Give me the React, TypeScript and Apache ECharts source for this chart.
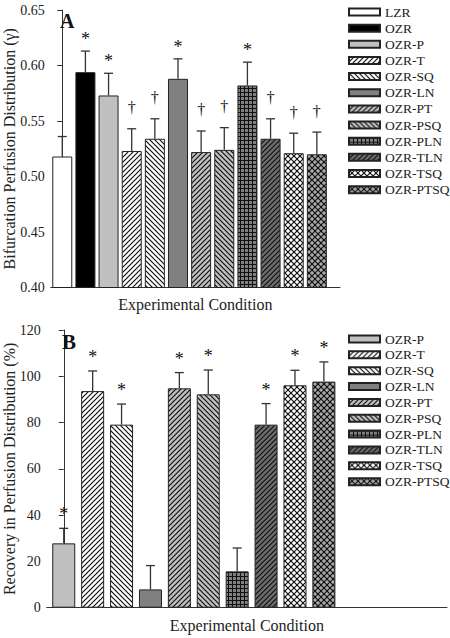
import React, { useEffect, useRef } from "react";
import * as echarts from "echarts";

const FONT = '"Liberation Serif", "Times New Roman", serif';

// ---- Panel A data ----
const categoriesA = ["LZR", "OZR", "OZR-P", "OZR-T", "OZR-SQ", "OZR-LN", "OZR-PT", "OZR-PSQ", "OZR-PLN", "OZR-TLN", "OZR-TSQ", "OZR-PTSQ"];
const meansA = [0.518, 0.594, 0.573, 0.523, 0.534, 0.588, 0.522, 0.524, 0.582, 0.534, 0.521, 0.520];
const errTopA = [0.536, 0.613, 0.593, 0.543, 0.552, 0.606, 0.541, 0.544, 0.603, 0.552, 0.539, 0.540];
const marksA = ["", "*", "*", "†", "†", "*", "†", "†", "*", "†", "†", "†"];
const yTicksA = { min: 0.4, max: 0.65, interval: 0.05 };

// ---- Panel B data ----
const categoriesB = ["OZR-P", "OZR-T", "OZR-SQ", "OZR-LN", "OZR-PT", "OZR-PSQ", "OZR-PLN", "OZR-TLN", "OZR-TSQ", "OZR-PTSQ"];
const meansB = [27.8, 93.6, 79.1, 7.9, 94.8, 92.2, 15.7, 79.1, 96.1, 97.7];
const errTopB = [34.3, 102.3, 88.0, 18.2, 101.6, 102.7, 25.8, 88.2, 102.6, 106.2];
const marksB = ["*", "*", "*", "", "*", "*", "", "*", "*", "*"];
const yTicksB = { min: 0, max: 120, interval: 20 };

type Kind = "solid" | "fwd" | "back" | "grid" | "cross";
const styleOf: Record<string, { bg: string; kind: Kind }> = {
  LZR: { bg: "#ffffff", kind: "solid" },
  OZR: { bg: "#000000", kind: "solid" },
  "OZR-P": { bg: "#c0c0c0", kind: "solid" },
  "OZR-T": { bg: "#ffffff", kind: "fwd" },
  "OZR-SQ": { bg: "#ffffff", kind: "back" },
  "OZR-LN": { bg: "#808080", kind: "solid" },
  "OZR-PT": { bg: "#c0c0c0", kind: "fwd" },
  "OZR-PSQ": { bg: "#c0c0c0", kind: "back" },
  "OZR-PLN": { bg: "#808080", kind: "grid" },
  "OZR-TLN": { bg: "#6e6e6e", kind: "fwd" },
  "OZR-TSQ": { bg: "#ffffff", kind: "cross" },
  "OZR-PTSQ": { bg: "#a8a8a8", kind: "cross" },
};

const patternCache: Record<string, any> = {};
function fillFor(name: string): any {
  const st = styleOf[name];
  if (st.kind === "solid") return st.bg;
  if (patternCache[name]) return patternCache[name];
  const s = st.kind === "grid" ? 4 : st.kind === "cross" ? 6 : 5;
  const c = document.createElement("canvas");
  c.width = s;
  c.height = s;
  const g = c.getContext("2d")!;
  g.fillStyle = st.bg;
  g.fillRect(0, 0, s, s);
  g.strokeStyle = "#111111";
  g.lineWidth = st.kind === "grid" ? 1 : 1.2;
  const ln = (x1: number, y1: number, x2: number, y2: number) => {
    g.beginPath();
    g.moveTo(x1, y1);
    g.lineTo(x2, y2);
    g.stroke();
  };
  const fwd = () => {
    ln(-1, s + 1, s + 1, -1);
    ln(-1, 1, 1, -1);
    ln(s - 1, s + 1, s + 1, s - 1);
  };
  const back = () => {
    ln(-1, -1, s + 1, s + 1);
    ln(s - 1, -1, s + 1, 1);
    ln(-1, s - 1, 1, s + 1);
  };
  if (st.kind === "fwd") fwd();
  else if (st.kind === "back") back();
  else if (st.kind === "cross") {
    fwd();
    back();
  } else if (st.kind === "grid") {
    ln(0.5, 0, 0.5, s);
    ln(0, 0.5, s, 0.5);
  }
  const p = { image: c, repeat: "repeat", imageWidth: s, imageHeight: s };
  patternCache[name] = p;
  return p;
}

function barSeries(cats: string[], vals: number[], axis: number, width: number) {
  return cats.map((name, i) => ({
    type: "bar",
    name,
    xAxisIndex: axis,
    yAxisIndex: axis,
    data: [[i, vals[i]]],
    barWidth: width,
    barGap: "-100%",
    itemStyle: { color: fillFor(name), borderColor: "#222222", borderWidth: 1 },
    emphasis: { disabled: true },
  }));
}

function errSeries(vals: number[], tops: number[], marks: string[], axis: number, starOff: number, dagOff: number) {
  return {
    type: "custom",
    xAxisIndex: axis,
    yAxisIndex: axis,
    z: 10,
    silent: true,
    data: vals.map((v, i) => [i, v, tops[i]]),
    renderItem: (params: any, api: any) => {
      const base = api.coord([api.value(0), api.value(1)]);
      const top = api.coord([api.value(0), api.value(2)]);
      const mark = marks[params.dataIndex];
      const children: any[] = [
        { type: "line", shape: { x1: base[0], y1: base[1], x2: top[0], y2: top[1] }, style: { stroke: "#333333", lineWidth: 1.3 } },
        { type: "line", shape: { x1: top[0] - 4.5, y1: top[1], x2: top[0] + 4.5, y2: top[1] }, style: { stroke: "#333333", lineWidth: 1.3 } },
      ];
      if (mark) {
        children.push({
          type: "text",
          x: top[0],
          y: top[1] - (mark === "*" ? starOff : dagOff),
          style: { text: mark, fontSize: mark === "*" ? 18 : 16, fontFamily: FONT, fill: "#111111", align: "center", verticalAlign: "middle" },
        });
      }
      return { type: "group", children };
    },
  };
}

const axisLineStyle = { lineStyle: { color: "#333333", width: 1 } };

export default function App() {
  const ref = useRef<HTMLDivElement>(null);
  useEffect(() => {
    if (!ref.current) return;
    const chart = echarts.init(ref.current, undefined, { renderer: "svg" });
    const legendBase = {
      orient: "vertical",
      left: 343,
      itemWidth: 31,
      itemHeight: 7,
      icon: "rect",
      selectedMode: false,
      textStyle: { fontFamily: FONT, fontSize: 13.5, color: "#222222", lineHeight: 14 },
    };
    const xBase = {
      type: "value",
      nameLocation: "middle",
      nameMoveOverlap: false,
      name: "Experimental Condition",
      nameTextStyle: { fontFamily: FONT, fontSize: 16, color: "#222222" },
      axisLine: { show: true, ...axisLineStyle },
      axisTick: { show: false },
      axisLabel: { show: false },
      splitLine: { show: false },
    };
    const yBase = {
      type: "value",
      nameLocation: "middle",
      nameMoveOverlap: false,
      nameRotate: 90,
      nameTextStyle: { fontFamily: FONT, fontSize: 16, color: "#222222" },
      axisLine: { show: true, ...axisLineStyle },
      axisTick: { show: true, inside: false, length: 5, ...axisLineStyle },
      splitLine: { show: false },
    };
    chart.setOption({
      animation: false,
      backgroundColor: "#ffffff",
      title: [
        { text: "A", left: 55, top: 6, textStyle: { fontFamily: FONT, fontSize: 20, fontWeight: "bold", color: "#111111" } },
        { text: "B", left: 57, top: 326, textStyle: { fontFamily: FONT, fontSize: 21, fontWeight: "bold", color: "#111111" } },
      ],
      legend: [
        { ...legendBase, top: 0, itemGap: 2.15, data: categoriesA },
        { ...legendBase, top: 327, itemGap: 1.85, data: categoriesB },
      ],
      grid: [
        { left: 50.7, top: 10, width: 289.3, height: 277.5, outerBoundsMode: "none" },
        { left: 46.7, top: 330, width: 400.3, height: 277.7, outerBoundsMode: "none" },
      ],
      xAxis: [
        { ...xBase, gridIndex: 0, min: -0.5, max: 12, nameGap: 9 },
        { ...xBase, gridIndex: 1, min: -0.59, max: 13.26, nameGap: 10 },
      ],
      yAxis: [
        {
          ...yBase,
          gridIndex: 0,
          ...yTicksA,
          name: "Bifurcation Perfusion Distribution (γ)",
          nameGap: 33,
          axisLabel: { fontFamily: FONT, fontSize: 14, color: "#222222", margin: 6, formatter: (v: number) => v.toFixed(2) },
        },
        {
          ...yBase,
          gridIndex: 1,
          ...yTicksB,
          name: "Recovery in Perfusion Distribution (%)",
          nameGap: 29,
          axisLabel: { fontFamily: FONT, fontSize: 14, color: "#222222", margin: 6 },
        },
      ],
      series: [
        ...barSeries(categoriesA, meansA, 0, 20),
        errSeries(meansA, errTopA, marksA, 0, 12, 21),
        ...barSeries(categoriesB, meansB, 1, 23),
        errSeries(meansB, errTopB, marksB, 1, 14, 21),
      ],
    });
    return () => chart.dispose();
  }, []);
  return <div ref={ref} style={{ position: "fixed", left: 0, top: 0, width: 450, height: 638 }} />;
}
